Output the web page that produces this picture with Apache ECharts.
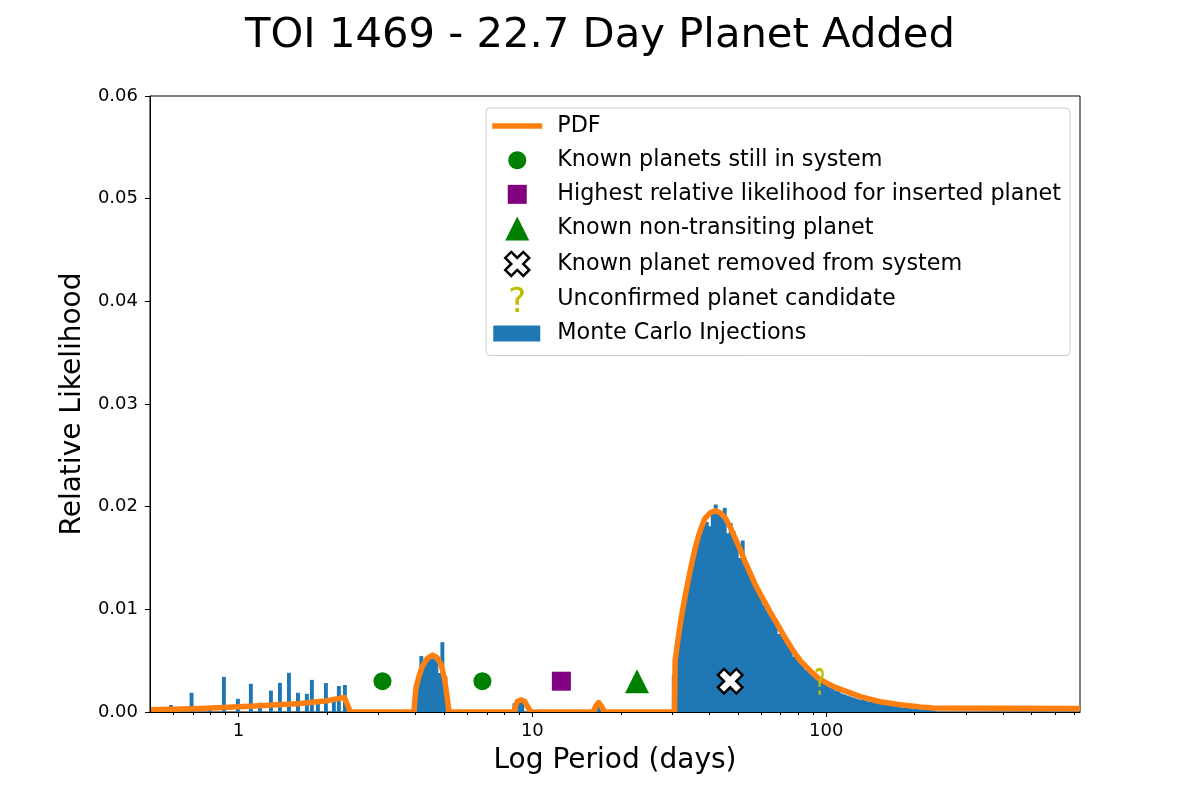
<!DOCTYPE html>
<html><head><meta charset="utf-8">
<script src="https://cdn.jsdelivr.net/npm/echarts@6/dist/echarts.min.js"></script>
<style>html,body{margin:0;padding:0;background:#fff}#c{width:1200px;height:800px}</style>
</head><body><div id="c"></div>
<script>
// ---------------- data ----------------
const titleText = 'TOI 1469 - 22.7 Day Planet Added';
const xAxisTitle = 'Log Period (days)';
const yAxisTitle = 'Relative Likelihood';
const periodMin = 0.5, periodMax = 730;
const xTickValues = [1, 10, 100];
const xMinorTickValues = [0.6,0.7,0.8,0.9,2,3,4,5,6,7,8,9,20,30,40,50,60,70,80,90,200,300,400,500,600,700];
const yMin = 0, yMax = 0.06, yStep = 0.01;

// PDF curve (period in days, relative likelihood)
const pdfPeriods = [0.5,0.742,1.098,1.625,2.0,2.294,2.404,3.95,4.02,4.106,4.216,4.383,4.58,4.741,4.893,5.02,5.128,5.20,
  8.64,8.80,8.90,9.15,9.40,9.60,9.88,16.09,16.45,16.81,17.15,17.58,
  30.45,30.6,31.45,32.25,33.14,34.06,34.93,35.85,36.78,37.72,38.76,40.31,41.92,43.61,45.34,47.15,49.03,50.99,53.02,55.14,
  57.35,59.64,62.02,64.5,67.97,72.54,77.43,81.56,88.22,93.94,100.6,107.3,114.5,130.5,152.6,178.5,208.8,231.1,730];
const pdfValues = [0.00022,0.00034,0.00056,0.00082,0.00110,0.00142,0,0,0.0024,0.0034,0.0044,0.0052,0.00555,0.0053,0.0046,0.0033,0.0015,0,
  0,0.0007,0.00105,0.00118,0.00105,0.0006,0,0,0.0006,0.00092,0.0006,0,
  0,0.0050,0.0075,0.0095,0.0114,0.0131,0.0146,0.0160,0.0172,0.0181,0.0189,0.0194,0.0196,0.0194,0.0189,0.0180,0.0169,0.0158,0.0146,0.0135,
  0.0124,0.0115,0.0106,0.0097,0.0086,0.0072,0.0059,0.0050,0.0040,0.0033,0.0028,0.0024,0.0021,0.0015,0.0010,0.0007,0.0005,0.0004,0.00035];

// Monte Carlo injection histogram (log-spaced bins)
const binWidthDex = 0.0102;
const sparseBarPeriods = [0.587,0.690,0.797,0.889,0.992,1.098,1.179,1.285,1.379,1.480,1.588,1.703,1.771,1.857,1.977,2.104,2.188,2.294,
  4.078,4.175,4.276,4.377,4.481,4.587,4.697,4.809,4.923,5.040,8.66,9.00,9.21,16.81];
const sparseBarHeights = [0.00068,0.00187,0.00058,0.00342,0.00128,0.00275,0.0009,0.00208,0.00284,0.00382,0.00187,0.00177,0.00313,0.0010,0.00282,0.0011,0.00253,0.00263,
  0.0030,0.00545,0.0050,0.0052,0.0053,0.0052,0.0050,0.0038,0.0068,0.0035,0.00085,0.0009,0.0010,0.0005];
const peakFirstPeriod = 30.17;
const peakBarHeights = [
  0.0036,0.0054,0.0074,0.0093,0.0110,0.0125,0.0140,0.0158,0.0163,0.0176,
  0.0189,0.0185,0.0181,0.0193,0.0202,0.0196,0.0194,0.0199,0.0174,0.0184,
  0.0176,0.0168,0.0150,0.0167,0.0145,0.0135,0.0133,0.0126,0.0117,0.0114,
  0.0104,0.0099,0.0095,0.0090,0.0086,0.0076,0.0077,0.0071,0.0066,0.0062,
  0.0054,0.0054,0.0050,0.0047,0.0041,0.0040,0.0037,0.0034,0.0032,0.0030,
  0.0028,0.0026,0.0024,0.0023,0.0021,0.0020,0.0018,0.0017,0.0016,0.0015,
  0.0014,0.0013,0.0012,0.0012,0.0011,0.0010,0.0010,0.0009,0.00085,0.0008,
  0.00075,0.0007,0.00065,0.0006,0.00055,0.0005,0.00046,0.00042,0.0004,0.00036,
  0.00033,0.0003,0.00027,0.00025,0.00022,0.0002,0.00018,0.00016];

// planet markers
const markerLevel = 0.003;
const knownPlanetPeriods = [3.09, 6.76];
const insertedBestPeriods = [12.55];
const nonTransitingPeriods = [22.7];
const removedPlanetPeriods = [47.1];
const candidatePeriods = [95];

const seriesNames = ['PDF','Known planets still in system','Highest relative likelihood for inserted planet',
  'Known non-transiting planet','Known planet removed from system','Unconfirmed planet candidate','Monte Carlo Injections'];

// ---------------- build ----------------
const L = Math.log10;
const barData = sparseBarPeriods.map((p, i) => [L(p), sparseBarHeights[i]])
  .concat(peakBarHeights.map((h, k) => [L(peakFirstPeriod) + k * binWidthDex, h]));
const pdfData = pdfPeriods.map((p, i) => [L(p), pdfValues[i]]);
const mk = arr => arr.map(p => [L(p), markerLevel]);

const QMARK = 'M1.0 2.0 C2.9 0.9 5.1 0.3 7.5 0.3 C11.6 0.3 14.2 2.6 14.2 6.2 C14.2 8.6 12.9 9.9 10.9 11.6 L10.2 12.2 C9.5 12.8 9.3 13.3 9.3 14.4 L9.3 18.3 L5.7 18.3 L5.7 14.2 C5.7 12.6 6.2 11.6 7.7 10.3 L8.8 9.4 C10.0 8.4 10.5 7.5 10.5 6.3 C10.5 4.5 9.2 3.4 7.2 3.4 C5.3 3.4 3.4 4.0 1.0 5.6 Z M5.7 21.6 L9.3 21.6 L9.3 25.7 L5.7 25.7 Z';
const XMARK = 'M1 0 L2 1 L3 0 L4 1 L3 2 L4 3 L3 4 L2 3 L1 4 L0 3 L1 2 L0 1 Z';
function shiftPath(d, dx, dy, s) {
  s = s || 1;
  return d.replace(/(-?\d*\.?\d+) (-?\d*\.?\d+)/g, (m, x, y) => ((+x) * s + dx).toFixed(2) + ' ' + ((+y) * s + dy).toFixed(2));
}
const CANVAS = 'M0 0 M60 26 ';
const iconPDF = 'path://' + CANVAS + 'M0 10.3 L50 10.3 L50 15.7 L0 15.7 Z';
const iconCircle = 'path://' + CANVAS + 'M34 13 C34 17.97 29.97 22 25 22 C20.03 22 16 17.97 16 13 C16 8.03 20.03 4 25 4 C29.97 4 34 8.03 34 13 Z';
const iconSquare = 'path://' + CANVAS + 'M15.5 3.5 L34.5 3.5 L34.5 22.5 L15.5 22.5 Z';
const iconTri = 'path://' + CANVAS + 'M25 1 L37 25 L13 25 Z';
const iconX = 'path://' + CANVAS + shiftPath(XMARK, 13, 1, 6);
const iconQ = 'path://' + CANVAS + shiftPath(QMARK, 17.4, 0, 1);
const iconRect = 'path://' + CANVAS + 'M1 5 L48 5 L48 21 L1 21 Z';

const FONT = 'DejaVu Sans';
const chart = echarts.init(document.getElementById('c'), null, { renderer: 'canvas' });
chart.setOption({
  animation: false,
  backgroundColor: '#ffffff',
  textStyle: { fontFamily: FONT },
  title: { text: titleText, left: 'center', top: 10, textStyle: { fontSize: 41.7, fontWeight: 'normal', color: '#000', fontFamily: FONT } },
  grid: { left: 150, right: 120, top: 96, bottom: 88, show: true, borderColor: '#000', borderWidth: 1, backgroundColor: 'transparent' },
  legend: {
    orient: 'vertical', left: 486, top: 108, padding: [5, 9, 9, 5],
    itemWidth: 60, itemHeight: 26, itemGap: 8.17,
    backgroundColor: 'rgba(255,255,255,0.8)', borderColor: '#cccccc', borderWidth: 1, borderRadius: 4,
    selectedMode: false, textStyle: { fontSize: 22.3, color: '#000', fontFamily: FONT },
    data: [
      { name: seriesNames[0], icon: iconPDF, itemStyle: { color: '#ff7f0e', borderWidth: 0 } },
      { name: seriesNames[1], icon: iconCircle, itemStyle: { color: '#008000', borderWidth: 0 } },
      { name: seriesNames[2], icon: iconSquare, itemStyle: { color: '#800080', borderWidth: 0 } },
      { name: seriesNames[3], icon: iconTri, itemStyle: { color: '#008000', borderWidth: 0 } },
      { name: seriesNames[4], icon: iconX, itemStyle: { color: '#ffffff', borderColor: '#000000', borderWidth: 2.5 } },
      { name: seriesNames[5], icon: iconQ, itemStyle: { color: '#bfbf00', borderWidth: 0 } },
      { name: seriesNames[6], icon: iconRect, itemStyle: { color: '#1f77b4', borderWidth: 0 } }
    ]
  },
  xAxis: [{
    type: 'value', position: 'bottom', min: L(periodMin), max: L(periodMax), z: 10,
    name: xAxisTitle, nameLocation: 'middle', nameGap: 35,
    nameTextStyle: { fontSize: 28, color: '#000', fontFamily: FONT },
    axisLine: { onZero: false, lineStyle: { color: '#000', width: 1 } },
    axisTick: { customValues: xTickValues.map(L), length: 5, lineStyle: { color: '#000', width: 1 } },
    axisLabel: { customValues: xTickValues.map(L), margin: 10, fontSize: 18, color: '#000', fontFamily: FONT,
      formatter: v => String(Math.round(Math.pow(10, v))) },
    splitLine: { show: false }
  }, {
    type: 'value', position: 'bottom', min: L(periodMin), max: L(periodMax), z: 10,
    axisLine: { show: false, onZero: false },
    axisTick: { customValues: xMinorTickValues.map(L), length: 3, lineStyle: { color: '#000', width: 1 } },
    axisLabel: { show: false },
    splitLine: { show: false }
  }],
  yAxis: {
    type: 'value', min: yMin, max: yMax, interval: yStep, z: 10,
    name: yAxisTitle, nameLocation: 'middle', nameGap: 53,
    nameTextStyle: { fontSize: 28, color: '#000', fontFamily: FONT },
    axisLine: { show: true, onZero: false, lineStyle: { color: '#000', width: 1 } },
    axisTick: { show: true, length: 5, lineStyle: { color: '#000', width: 1 } },
    axisLabel: { margin: 12, fontSize: 18, color: '#000', fontFamily: FONT, formatter: v => v.toFixed(2) },
    splitLine: { show: false }
  },
  series: [
    {
      name: seriesNames[6], type: 'custom', z: 2, clip: true, silent: true,
      itemStyle: { color: '#1f77b4' },
      data: barData,
      renderItem: (params, api) => {
        const c = api.value(0), h = api.value(1);
        const a = api.coord([c - binWidthDex / 2, h]);
        const b = api.coord([c + binWidthDex / 2, 0]);
        return { type: 'rect', shape: { x: a[0], y: a[1], width: b[0] - a[0] + 0.9, height: b[1] - a[1] }, style: { fill: '#1f77b4' } };
      }
    },
    {
      name: seriesNames[0], type: 'custom', z: 3, clip: true, silent: true,
      lineStyle: { width: 0.01 },
      itemStyle: { color: '#ff7f0e' },
      data: pdfData,
      renderItem: (params, api) => {
        if (params.dataIndexInside !== 0) return null;
        const pts = [];
        for (let i = 0; i < params.dataInsideLength; i++) pts.push(api.coord([api.value(0, i), api.value(1, i)]));
        return { type: 'polyline', shape: { points: pts }, style: { stroke: '#ff7f0e', lineWidth: 5.5, fill: 'none', lineJoin: 'round' } };
      }
    },
    { name: seriesNames[1], type: 'scatter', z: 5, silent: true, data: mk(knownPlanetPeriods), symbol: 'circle', symbolSize: 18,
      itemStyle: { color: '#008000', opacity: 1 } },
    { name: seriesNames[2], type: 'scatter', z: 5, silent: true, data: mk(insertedBestPeriods), symbol: 'rect', symbolSize: 19,
      itemStyle: { color: '#800080', opacity: 1 } },
    { name: seriesNames[3], type: 'scatter', z: 5, silent: true, data: mk(nonTransitingPeriods), symbol: 'triangle', symbolSize: 24,
      itemStyle: { color: '#008000', opacity: 1 } },
    { name: seriesNames[4], type: 'scatter', z: 5, silent: true, data: mk(removedPlanetPeriods), symbol: 'path://' + XMARK,
      symbolSize: 24.5, symbolKeepAspect: true,
      itemStyle: { color: '#ffffff', borderColor: '#000000', borderWidth: 2.5, opacity: 1 } },
    { name: seriesNames[5], type: 'scatter', z: 5, silent: true, data: mk(candidatePeriods), symbol: 'path://' + QMARK,
      symbolSize: [16, 27], symbolKeepAspect: true,
      itemStyle: { color: '#bfbf00', opacity: 1 } }
  ]
});
</script></body></html>
